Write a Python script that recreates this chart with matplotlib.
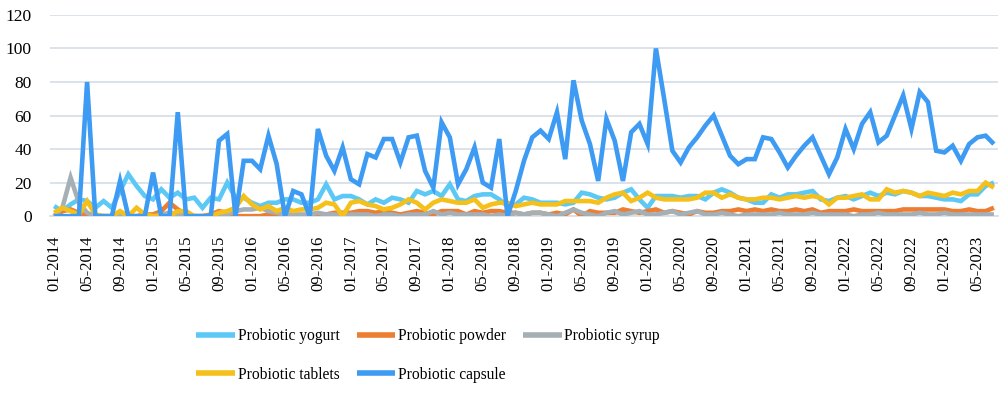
import matplotlib
matplotlib.use("Agg")
import matplotlib.pyplot as plt
import numpy as np

# ---- data (monthly, 01-2014 .. 07-2023) ----
months = [f"{m:02d}-{y}" for y in range(2014, 2024) for m in range(1, 13)][:115]

yogurt = [6, 3, 7, 10, 9, 5, 9, 5, 15, 25, 18, 12, 10, 16, 11, 14, 10, 11, 5, 11,
          10, 20, 11, 11, 8, 6, 8, 8, 10, 10, 8, 8, 10, 19, 10, 12, 12, 10, 7, 10,
          8, 11, 10, 8, 15, 13, 15, 12, 19, 10, 9, 12, 13, 13, 10, 6, 7, 11, 10, 8,
          8, 8, 7, 8, 14, 13, 11, 10, 11, 14, 16, 10, 5, 12, 12, 12, 11, 12, 12, 10,
          14, 16, 14, 11, 10, 8, 8, 13, 11, 13, 13, 14, 15, 10, 9, 11, 12, 10, 12, 14,
          12, 14, 13, 15, 14, 12, 12, 11, 10, 10, 9, 13, 13, 18, 20]
powder = [0, 3, 4, 2, 0, 0, 0, 0, 0, 0, 0, 1, 1, 3, 8, 4, 1, 0, 0, 1,
          3, 2, 0, 0, 0, 0, 1, 0, 1, 0, 0, 0, 1, 1, 2, 2, 2, 3, 3, 2,
          3, 2, 1, 2, 3, 2, 1, 3, 3, 3, 1, 3, 2, 3, 3, 2, 2, 1, 2, 2,
          1, 2, 1, 4, 0, 3, 2, 2, 2, 4, 3, 2, 3, 4, 2, 3, 2, 1, 3, 2,
          2, 3, 3, 4, 3, 4, 3, 4, 3, 3, 4, 3, 4, 2, 3, 3, 3, 4, 3, 3,
          3, 3, 3, 4, 4, 4, 4, 4, 4, 3, 3, 4, 3, 3, 5]
syrup = [0, 5, 23, 8, 2, 0, 0, 0, 0, 0, 0, 0, 0, 1, 2, 1, 0, 0, 0, 0,
         1, 1, 3, 4, 4, 5, 3, 2, 1, 1, 1, 1, 2, 1, 1, 0, 1, 1, 1, 0,
         1, 1, 0, 1, 1, 1, 3, 1, 2, 1, 1, 1, 1, 0, 1, 0, 2, 1, 2, 2,
         1, 0, 2, 4, 2, 1, 0, 2, 3, 1, 2, 3, 1, 1, 2, 3, 1, 2, 3, 1,
         1, 2, 1, 0, 1, 1, 1, 1, 2, 1, 1, 1, 2, 1, 1, 1, 1, 0, 1, 1,
         2, 1, 1, 1, 1, 2, 1, 1, 2, 1, 1, 1, 1, 1, 1]
tablets = [2, 5, 3, 1, 9, 1, 0, 0, 3, 0, 5, 1, 0, 0, 0, 3, 3, 0, 0, 0,
           2, 3, 5, 12, 7, 4, 6, 3, 5, 3, 4, 4, 5, 8, 7, 0, 8, 9, 7, 6,
           4, 5, 7, 10, 8, 4, 8, 10, 9, 8, 8, 10, 5, 7, 8, 8, 6, 7, 8, 7,
           7, 7, 9, 9, 9, 9, 8, 11, 13, 14, 9, 11, 14, 11, 10, 10, 10, 10, 11, 14,
           14, 11, 13, 11, 10, 10, 11, 11, 10, 11, 12, 11, 12, 11, 7, 11, 11, 12, 13, 10,
           10, 16, 14, 15, 14, 12, 14, 13, 12, 14, 13, 15, 15, 20, 17]
capsule = [0, 0, 0, 0, 80, 0, 0, 0, 21, 0, 0, 0, 26, 0, 0, 62, 0, 0, 0, 0,
           45, 49, 0, 33, 33, 28, 48, 31, 0, 15, 13, 0, 52, 36, 27, 41, 22, 19, 37, 35,
           46, 46, 32, 47, 48, 27, 17, 56, 47, 19, 28, 41, 20, 17, 46, 0, 15, 33, 47, 51,
           46, 62, 34, 81, 57, 43, 21, 58, 45, 21, 50, 55, 43, 100, 70, 39, 32, 41, 47, 54,
           60, 48, 36, 31, 34, 34, 47, 46, 38, 29, 36, 42, 47, 36, 25, 35, 52, 40, 55, 62,
           44, 48, 60, 72, 52, 74, 68, 39, 38, 42, 33, 43, 47, 48, 43]

series_names = ["Probiotic yogurt", "Probiotic powder", "Probiotic syrup",
                "Probiotic tablets", "Probiotic capsule"]
series_data = [yogurt, powder, syrup, tablets, capsule]
colors = ["#5BC8F5", "#ED7D31", "#A5AFB6", "#F5C01A", "#3D9BF3"]

yticks = [0, 20, 40, 60, 80, 100, 120]
tick_step = 4

SERIF = ["Liberation Serif", "DejaVu Serif"]

fig = plt.figure(figsize=(10, 3.93), dpi=100)
ax = fig.add_axes([0.05, 0.450, 0.948, 0.512])

x = np.arange(len(months))
lines = {}
for name, vals, c in zip(series_names, series_data, colors):
    ln, = ax.plot(x, vals, color=c, lw=3.3, solid_joinstyle="miter",
                  solid_capstyle="butt", label=name, zorder=3)
    lines[name] = ln

ax.set_xlim(-0.5, len(months) - 0.5)
ax.set_ylim(0, 120)
ax.set_yticks(yticks)
ax.set_yticklabels([str(v) for v in yticks], fontfamily=SERIF, fontsize=12.5)
ax.set_xticks(x[::tick_step])
ax.set_xticklabels(months[::tick_step], rotation=90, fontfamily=SERIF, fontsize=12)
ax.tick_params(axis="both", length=0)
ax.tick_params(axis="y", pad=13)
ax.tick_params(axis="x", pad=14)
ax.grid(axis="y", color="#D9DFE7", lw=1.3, zorder=0)
for s in ["top", "right", "left"]:
    ax.spines[s].set_visible(False)
ax.spines["bottom"].set_color("#D9DFE7")
ax.spines["bottom"].set_linewidth(1.3)

order = ["Probiotic yogurt", "Probiotic tablets", "Probiotic powder",
         "Probiotic capsule", "Probiotic syrup"]
leg = fig.legend([lines[n] for n in order], order, ncol=3, loc="center",
                 bbox_to_anchor=(0.428, 0.095), frameon=False,
                 prop={"family": SERIF, "size": 11.2},
                 handlelength=2.5, handletextpad=0.15, columnspacing=1.1,
                 labelspacing=1.45)
for h in leg.legend_handles:
    h.set_linewidth(4)

fig.savefig("out.png", dpi=100)
